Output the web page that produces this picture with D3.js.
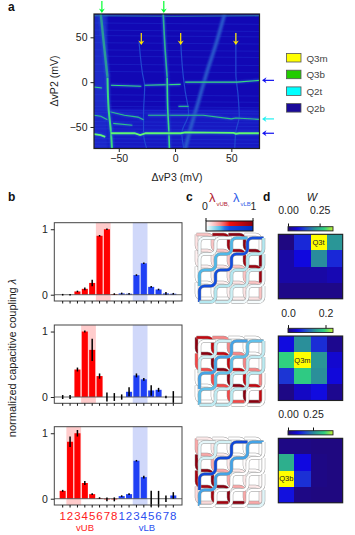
<!DOCTYPE html>
<html>
<head>
<meta charset="utf-8">
<script src="https://cdn.jsdelivr.net/npm/d3@7"></script>
<style>
body { margin: 0; background: white; }
text { font-family: "Liberation Sans", Arial, sans-serif; fill: #222; }
</style>
</head>
<body>
<div id="chart"></div>
<script>
const width = 355
const height = 535

// panel a: traces as [dvP3, dvP2] in mV
const traceVerticalUpper = [
    [[-66,76],[-63,40],[-60,5]],
    [[-10.5,76],[-9,40],[-7,5]]
]
const traceVerticalLower = [
    [[-60,5],[-59,-30],[-57,-55],[-56,-75]],
    [[-7,5],[-6.5,-30],[-5.5,-55],[-5,-75]]
]
const traceHorizontal = [
    [[-72,-5.5],[-65,-6.5]],
    [[-57,-3.5],[-30,-4.5]],
    [[-27,-3.5],[5,-2.5]],
    [[9,0],[55,0],[75,2]]
]
const traceBright = [
    [[-72,-58],[-66,-59],[-62,-61]],
    [[-57,-57],[-36,-57],[-31,-59],[-26,-57],[5,-57],[9,-56],[52,-56.5],[54,-57.5],[57,-57],[75,-57]]
]
const traceMiddle = [
    [[-72,-37],[-66,-38],[-60,-42]],
    [[-58,-33],[-45,-37],[-33,-39],[-28,-42]],
    [[-24,-37],[10,-37],[25,-37],[50,-41],[54,-40],[75,-41.5]],
    [[-55,-46],[-38,-48]],
    [[3,-27],[12,-27]]
]
const traceFaint = [
    [[-32,45],[-29,10],[-27,-5],[-28,-35],[-28,-57],[-25,-75]],
    [[5,45],[7,10],[9,-10],[12,-35],[6,-57],[8,-75]],
    [[54,55],[54,10],[56,-15],[57,-38],[54,-55],[53,-75]]
]
const traceBroad = [[44,76],[37,45],[28,10],[20,-25],[13,-55],[9,-75]]
const traceFloor = [[-72,74],[0,73.5],[75,74]]
const faintRows = [66,58,52,44,36,29,20,12,-14,-21,-27,-31,-34,-44,-48,-52,-63,-67,-71]

const tickA = [-50,0,50]
const arrowsTop = [-65,-10]
const arrowsMid = [-30,5,54]
const arrowsSide = [2,-41,-57]
const legendNames = ["Q3m","Q3b","Q2t","Q2b"]
const legendColors = ["#ffff00","#22cc00","#00ffff","#1a0a9a"]

// panel b: 8 vUB gates then 8 vLB gates, one row per dot
const gateNumbers = ["1","2","3","4","5","6","7","8","1","2","3","4","5","6","7","8"]
const couplingTop = [0,0,.05,.09,.18,.9,1,.01,.02,.015,.3,.48,.12,.08,.02,.015]
const errorTop = [.005,.01,.01,.02,.05,.01,.005,.005,.005,.005,.01,.01,.01,.01,.02,.01]
const couplingMid = [0,0,.42,1,.72,.32,0,0,0,.08,.33,.27,.1,.11,0,0]
const errorMid = [.03,.03,.03,.015,.17,.04,.07,.06,.04,.07,.03,.02,.08,.03,.02,.09]
const couplingLow = [.12,.87,1,.24,.07,.01,-.01,-.01,.04,.07,.58,.33,0,0,0,.05]
const errorLow = [.015,.08,.05,.03,.01,.01,.03,.03,.01,.01,.005,.02,.12,.12,.05,.05]
const highlightTop = [[5,6],[10,11]]
const highlightMid = [[3,4],[10,11]]
const highlightLow = [[1,2],[10,11]]

// panel d: W per dot, top row first
const weightTop = [
    [.005,.10,.356,.20],
    [.03,.07,.19,.10],
    [.03,.03,.03,.04],
    [.01,.01,.01,.01]
]
const weightMid = [
    [.05,.13,.07,.01],
    [.18,.24,.135,.04],
    [.075,.175,.13,.045],
    [.005,.035,.05,.01]
]
const weightLow = [
    [.01,.01,.005,.005],
    [.29,.09,.01,.005],
    [.45,.135,.01,.005],
    [.10,.01,.005,.005]
]
const weightNames = ["Q3t","Q3m","Q3b"]
const weightSpots = [[2,0],[1,1],[0,2]]
const weightMax = [.356,.24,.45]
const weightTicks = [[0,.25],[0,.2],[0,.25]]

// panel c: gate wires as lattice nodes
const wiresUB = [
    [[0,3],[0,4],[1,4]],
    [[0,2],[0,3],[1,3],[1,4],[2,4]],
    [[0,1],[0,2],[1,2],[1,3],[2,3],[2,4],[3,4]],
    [[0,0],[0,1],[1,1],[1,2],[2,2],[2,3],[3,3],[3,4],[4,4]],
    [[0,0],[1,0],[1,1],[2,1],[2,2],[3,2],[3,3],[4,3],[4,4]],
    [[1,0],[2,0],[2,1],[3,1],[3,2],[4,2],[4,3]],
    [[2,0],[3,0],[3,1],[4,1],[4,2]],
    [[3,0],[4,0],[4,1]]
]
const wiresLB = [
    [[0,1],[0,0],[1,0]],
    [[0,2],[0,1],[1,1],[1,0],[2,0]],
    [[0,3],[0,2],[1,2],[1,1],[2,1],[2,0],[3,0]],
    [[0,4],[0,3],[1,3],[1,2],[2,2],[2,1],[3,1],[3,0],[4,0]],
    [[0,4],[1,4],[1,3],[2,3],[2,2],[3,2],[3,1],[4,1],[4,0]],
    [[1,4],[2,4],[2,3],[3,3],[3,2],[4,2],[4,1]],
    [[2,4],[3,4],[3,3],[4,3],[4,2]],
    [[3,4],[4,4],[4,3]]
]

const couplings = [couplingTop, couplingMid, couplingLow]
const errors = [errorTop, errorMid, errorLow]
const highlights = [highlightTop, highlightMid, highlightLow]
const weights = [weightTop, weightMid, weightLow]

const svg = d3.select("#chart").append("svg").attr("width", width).attr("height", height)
    .style("display", "block")
const defs = svg.append("defs")

const mapColor = d3.scaleLinear()
    .domain([0,.2,.35,.55,.75,.9,1])
    .range(["#20087a","#1008e0","#2044d0","#2a9298","#30d080","#a8ec40","#ffff00"])
    .clamp(true)

const panelLetter = (t, x, y) => svg.append("text").text(t)
    .attr("x", x).attr("y", y).attr("font-size", 12).attr("font-weight", "bold").style("fill", "#111")

panelLetter("a", 8, 11)
panelLetter("b", 8, 201)
panelLetter("c", 186, 201)
panelLetter("d", 263, 201)

/* ---------- a ---------- */
const ax = d3.scaleLinear().domain([-72,75]).range([94,259.5])
const ay = d3.scaleLinear().domain([76,-74]).range([14,148.5])
const lineA = d3.line().x(d => ax(d[0])).y(d => ay(d[1])).curve(d3.curveMonotoneY)
const lineAh = d3.line().x(d => ax(d[0])).y(d => ay(d[1]))

defs.append("clipPath").attr("id", "clipA").append("rect")
    .attr("x", ax.range()[0]).attr("y", ay.range()[0])
    .attr("width", ax.range()[1]-ax.range()[0]).attr("height", ay.range()[1]-ay.range()[0])
defs.append("filter").attr("id", "soft2").attr("filterUnits", "userSpaceOnUse")
    .attr("x", 0).attr("y", 0).attr("width", width).attr("height", height)
    .append("feGaussianBlur").attr("stdDeviation", .55)
defs.append("filter").attr("id", "wide2").attr("filterUnits", "userSpaceOnUse")
    .attr("x", 0).attr("y", 0).attr("width", width).attr("height", height)
    .append("feGaussianBlur").attr("stdDeviation", 1.3)

const mapGroup = svg.append("g").attr("clip-path", "url(#clipA)")
mapGroup.append("rect").attr("x", 94).attr("y", 14).attr("width", 165.5).attr("height", 134.5).attr("fill", "#1208b4")
// brighter low voltage edge and bottom area
mapGroup.append("rect").attr("x", ax(-72)).attr("y", ay(76)).attr("width", ax(-60)-ax(-72)).attr("height", 134.5)
    .attr("fill", "#1a2cc8").attr("filter", "url(#wide2)")
mapGroup.append("rect").attr("x", ax(-72)).attr("y", ay(-30)).attr("width", 165.5).attr("height", ay(-74)-ay(-30))
    .attr("fill", "#1a28cc").attr("opacity", .6).attr("filter", "url(#wide2)")

mapGroup.selectAll(".row").data(faintRows).join("line")
    .attr("class", "row")
    .attr("x1", ax(-72)).attr("x2", ax(75))
    .attr("y1", d => ay(d)).attr("y2", d => ay(d - 1.5))
    .attr("stroke", "#2a4ce0").attr("stroke-width", .7).attr("opacity", .4)

function drawTrace(sel, pts, colorCore, w, gen) {
    sel.append("path").attr("d", gen(pts)).attr("fill", "none")
        .attr("stroke", mapColor(.36)).attr("stroke-width", w * 1.8).attr("filter", "url(#wide2)")
    sel.append("path").attr("d", gen(pts)).attr("fill", "none")
        .attr("stroke", colorCore).attr("stroke-width", w).attr("filter", "url(#soft2)")
}

mapGroup.append("path").attr("d", lineAh(traceFloor)).attr("fill", "none")
    .attr("stroke", "#2a80a8").attr("stroke-width", 1.1).attr("filter", "url(#soft2)")
mapGroup.append("path").attr("d", lineA(traceBroad)).attr("fill", "none")
    .attr("stroke", "#2a5ccc").attr("stroke-width", 3.5).attr("filter", "url(#wide2)")
traceFaint.forEach(t => mapGroup.append("path").attr("d", lineA(t)).attr("fill", "none")
    .attr("stroke", "#2048d0").attr("stroke-width", 1.2).attr("filter", "url(#soft2)"))
traceMiddle.forEach(t => drawTrace(mapGroup, t, "#2fc088", 1.1, lineAh))
traceHorizontal.forEach(t => drawTrace(mapGroup, t, "#38d880", 1.1, lineAh))
traceVerticalUpper.forEach((t, i) => drawTrace(mapGroup, t, i == 0 ? "#2a9a98" : "#2fb090", i == 0 ? 2.4 : 1.6, lineA))
traceVerticalLower.forEach((t, i) => drawTrace(mapGroup, t, "#3ada80", i == 0 ? 2 : 1.6, lineA))
traceBright.forEach(t => drawTrace(mapGroup, t, "#60f870", 1.8, lineAh))

svg.append("rect").attr("x", 94).attr("y", 14).attr("width", 165.5).attr("height", 134.5)
    .attr("fill", "none").attr("stroke", "#222").attr("stroke-width", 1.2)

const axisAx = svg.append("g").attr("transform", "translate(0,148.5)")
    .call(d3.axisBottom(ax).tickValues(tickA).tickSize(3.5).tickPadding(3))
const axisAy = svg.append("g").attr("transform", "translate(94,0)")
    .call(d3.axisLeft(ay).tickValues(tickA).tickSize(3.5).tickPadding(3))
;[axisAx, axisAy].forEach(g => {
    g.select(".domain").remove()
    g.selectAll("text").attr("font-size", 10.5).style("font-family", "Liberation Sans")
    g.selectAll("line").attr("stroke", "#222")
})

svg.append("text").text("ΔvP3 (mV)").attr("x", 177).attr("y", 181)
    .attr("text-anchor", "middle").attr("font-size", 10.5)
svg.append("text").text("ΔvP2 (mV)").attr("transform", "translate(58,81) rotate(-90)")
    .attr("text-anchor", "middle").attr("font-size", 10.5)

function arrowDown(x, y0, y1, color) {
    svg.append("line").attr("x1", x).attr("x2", x).attr("y1", y0).attr("y2", y1 - 2)
        .attr("stroke", color).attr("stroke-width", 1.2)
    svg.append("path").attr("d", d3.line()([[x-3,y1-4.5],[x,y1],[x+3,y1-4.5],[x,y1-3]]))
        .attr("fill", color)
}
function arrowLeft(y, x0, x1, color) {
    svg.append("line").attr("x1", x0).attr("x2", x1 + 2).attr("y1", y).attr("y2", y)
        .attr("stroke", color).attr("stroke-width", 1.2)
    svg.append("path").attr("d", d3.line()([[x1+4.5,y-3],[x1,y],[x1+4.5,y+3],[x1+3,y]]))
        .attr("fill", color)
}
arrowsTop.forEach(v => arrowDown(ax(v), 1, 13, "#00ff30"))
arrowsMid.forEach(v => arrowDown(ax(v), 33, 45, "#ffe600"))
const sideColors = ["#1010f0","#20f0f0","#1010f0"]
arrowsSide.forEach((v, i) => arrowLeft(ay(v), 274, 262, sideColors[i]))

legendNames.forEach((name, i) => {
    const top = 53.5 + i * 16.7
    svg.append("rect").attr("x", 286.5).attr("y", top).attr("width", 14.5).attr("height", 8.5)
        .attr("fill", legendColors[i]).attr("stroke", "#555").attr("stroke-width", .8)
    svg.append("text").text(name).attr("x", 306.5).attr("y", top + 8)
        .attr("font-size", 9.8).style("fill", "#444")
})

/* ---------- b ---------- */
const bTops = [222.7, 325, 426.7]
const gates = d3.range(16)
const bx = d3.scaleBand().domain(gates).range([59,177]).paddingInner(.18).paddingOuter(.09)
couplings.forEach((values, p) => {
    const top = bTops[p]
    const by = d3.scaleLinear().domain([1.1,-.096]).range([top, top + 78.3])
    const g = svg.append("g")

    highlights[p].forEach((pair, k) => {
        g.append("rect")
            .attr("x", bx(pair[0]) - bx.step() * .09).attr("y", top)
            .attr("width", bx.step() * 2).attr("height", 78.3)
            .attr("fill", k == 0 ? "#ffcccc" : "#d0d8fa")
    })
    g.selectAll(".bar").data(values).join("rect")
        .attr("class", "bar")
        .attr("x", (d, i) => bx(i))
        .attr("y", d => by(Math.max(d, 0)))
        .attr("width", bx.bandwidth())
        .attr("height", d => Math.abs(by(d) - by(0)))
        .attr("fill", (d, i) => i < 8 ? "#ff0000" : "#1f40f5")
    g.append("line").attr("x1", 54.3).attr("x2", 182).attr("y1", by(0)).attr("y2", by(0))
        .attr("stroke", "#555").attr("stroke-width", .9)
    g.selectAll(".err").data(values).join("line")
        .attr("class", "err")
        .attr("x1", (d, i) => bx(i) + bx.bandwidth() / 2)
        .attr("x2", (d, i) => bx(i) + bx.bandwidth() / 2)
        .attr("y1", (d, i) => Math.min(by(d + errors[p][i]), by(d) - .8))
        .attr("y2", (d, i) => Math.max(by(d - errors[p][i]), by(d) + .8))
        .attr("stroke", "#000").attr("stroke-width", 1.5)
    g.append("rect").attr("x", 54.3).attr("y", top).attr("width", 127.7).attr("height", 78.3)
        .attr("fill", "none").attr("stroke", "#444").attr("stroke-width", 1)

    const xAxis = g.append("g").attr("transform", `translate(0,${top + 78.3})`)
        .call(d3.axisBottom(bx).tickSize(2.5).tickFormat((d, i) => p == 2 ? gateNumbers[i] : "").tickPadding(4))
    xAxis.select(".domain").remove()
    xAxis.selectAll("line").attr("stroke", "#111")
    xAxis.selectAll("text").attr("font-size", 11.5).style("font-family", "Liberation Sans")
        .style("fill", (d, i) => i < 8 ? "#ff2020" : "#2a50f0")

    const yAxis = g.append("g").attr("transform", "translate(54.3,0)")
        .call(d3.axisLeft(by).tickValues([0,1]).tickFormat(d3.format("d")).tickSize(3.5).tickPadding(3))
    yAxis.select(".domain").remove()
    yAxis.selectAll("line").attr("stroke", "#222")
    yAxis.selectAll("text").attr("font-size", 10.5).style("font-family", "Liberation Sans")
})
svg.append("text").text("vUB").attr("x", 85).attr("y", 531).attr("text-anchor", "middle")
    .attr("font-size", 9.5).style("fill", "#ff2020")
svg.append("text").text("vLB").attr("x", 147).attr("y", 531).attr("text-anchor", "middle")
    .attr("font-size", 9.5).style("fill", "#2a50f0")
const yTitle = svg.append("text").attr("transform", "translate(16,358) rotate(-90)")
    .attr("text-anchor", "middle").attr("font-size", 11)
yTitle.append("tspan").text("normalized capacitive coupling ")
yTitle.append("tspan").text("λ").attr("font-style", "italic")

/* ---------- c ---------- */
const redScale = d3.scaleLinear().domain([0,.15,.35,.5,1])
    .range(["#ffffff","#fbd0d0","#f87878","#f01010","#8a0010"])
const blueScale = d3.scaleLinear().domain([0,.12,.3,.45,1])
    .range(["#ffffff","#b4e8f0","#50b8e8","#1450e0","#0030c0"])

function wirePath(nodes, sx, sy) {
    const r = 5
    const path = d3.path()
    const pts = nodes.map(n => [sx(n[0]), sy(n[1])])
    path.moveTo(pts[0][0], pts[0][1])
    for (let i = 1; i < pts.length - 1; i++) {
        path.arcTo(pts[i][0], pts[i][1], pts[i+1][0], pts[i+1][1], r)
    }
    const last = pts[pts.length - 1]
    path.lineTo(last[0], last[1])
    return path.toString()
}

const latticeTops = [238, 341, 442]
latticeTops.forEach((top, p) => {
    const g = svg.append("g")
    const redX = d3.scaleLinear().domain([0,4]).range([196.5,260.5])
    const redY = d3.scaleLinear().domain([0,4]).range([top - 3.5, top + 60.5])
    const bluX = d3.scaleLinear().domain([0,4]).range([199.5,263.5])
    const bluY = d3.scaleLinear().domain([0,4]).range([top, top + 64])
    // upper gate layer goes underneath, lower gate layer lies over it
    wiresUB.forEach((w, i) => {
        const d = wirePath(w, redX, redY)
        g.append("path").attr("d", d).attr("fill", "none").attr("stroke", "#999").attr("stroke-width", 3.5)
        g.append("path").attr("d", d).attr("fill", "none").attr("stroke", redScale(couplings[p][i])).attr("stroke-width", 2.6)
    })
    wiresLB.forEach((w, i) => {
        const d = wirePath(w, bluX, bluY)
        g.append("path").attr("d", d).attr("fill", "none").attr("stroke", "#999").attr("stroke-width", 3.5)
        g.append("path").attr("d", d).attr("fill", "none").attr("stroke", blueScale(couplings[p][i + 8])).attr("stroke-width", 2.6)
    })
})

const gradRed = defs.append("linearGradient").attr("id", "gradRed")
d3.range(0, 1.01, .1).forEach(t => gradRed.append("stop").attr("offset", t).attr("stop-color", redScale(t)))
const gradBlue = defs.append("linearGradient").attr("id", "gradBlue")
d3.range(0, 1.01, .1).forEach(t => gradBlue.append("stop").attr("offset", t).attr("stop-color", blueScale(t)))

svg.append("rect").attr("x", 206).attr("y", 221).attr("width", 47).attr("height", 5).attr("fill", "url(#gradRed)")
svg.append("rect").attr("x", 206).attr("y", 226).attr("width", 47).attr("height", 5).attr("fill", "url(#gradBlue)")
svg.append("rect").attr("x", 206).attr("y", 221).attr("width", 47).attr("height", 10)
    .attr("fill", "none").attr("stroke", "#111").attr("stroke-width", 1)
;[206,253].forEach(x => svg.append("line").attr("x1", x).attr("x2", x).attr("y1", 218).attr("y2", 221)
    .attr("stroke", "#111"))
svg.append("text").text("0").attr("x", 205).attr("y", 210).attr("text-anchor", "middle").attr("font-size", 10.5)
svg.append("text").text("1").attr("x", 253.5).attr("y", 210).attr("text-anchor", "middle").attr("font-size", 10.5)

svg.append("text").text("λ").attr("x", 209).attr("y", 202).attr("font-size", 13).style("fill", "#b02030")
svg.append("text").text("vUB,").attr("x", 216.5).attr("y", 205.5).attr("font-size", 6).style("fill", "#b02030")
svg.append("text").text("λ").attr("x", 233).attr("y", 202).attr("font-size", 13).style("fill", "#3060e8")
svg.append("text").text("vLB").attr("x", 240.5).attr("y", 205.5).attr("font-size", 6).style("fill", "#3060e8")

/* ---------- d ---------- */
svg.append("text").text("W").attr("x", 312).attr("y", 201).attr("text-anchor", "middle")
    .attr("font-size", 11).attr("font-style", "italic")

const dTops = [234.3, 336, 438.3]
const barTops = [226.7, 328.3, 430.7]
const labelBase = [214, 317, 418]
weights.forEach((grid, p) => {
    const top = dTops[p]
    const col = d3.scaleBand().domain(d3.range(4)).range([278.3,342.7])
    const row = d3.scaleBand().domain(d3.range(4)).range([top, top + 64.5])
    const color = v => mapColor(v / weightMax[p])
    const g = svg.append("g")
    grid.forEach((rowValues, r) => {
        g.selectAll(".c" + r).data(rowValues).join("rect")
            .attr("x", (d, c) => col(c)).attr("y", row(r))
            .attr("width", col.bandwidth()).attr("height", row.bandwidth())
            .attr("fill", d => color(d))
            .attr("shape-rendering", "crispEdges")
    })
    g.append("rect").attr("x", 278.3).attr("y", top).attr("width", 64.4).attr("height", 64.5)
        .attr("fill", "none").attr("stroke", "#222").attr("stroke-width", 1.1)
    const spot = weightSpots[p]
    g.append("text").text(weightNames[p])
        .attr("x", col(spot[0]) + col.bandwidth() / 2)
        .attr("y", row(spot[1]) + row.bandwidth() / 2 + 2.5)
        .attr("text-anchor", "middle").attr("font-size", 7.5).style("fill", "#222")

    const gradId = "gradW" + p
    const grad = defs.append("linearGradient").attr("id", gradId)
    d3.range(0, 1.01, .05).forEach(t => grad.append("stop").attr("offset", t).attr("stop-color", mapColor(t * .93)))
    g.append("rect").attr("x", 288).attr("y", barTops[p]).attr("width", 45).attr("height", 4.2)
        .attr("fill", `url(#${gradId})`).attr("stroke", "#222").attr("stroke-width", .9)
    const bar = d3.scaleLinear().domain([0, weightMax[p]]).range([288,333])
    const axis = g.append("g").attr("transform", `translate(0,${barTops[p]})`)
        .call(d3.axisTop(bar).tickValues(weightTicks[p]).tickSize(3.2).tickPadding(0)
            .tickFormat(p == 1 ? d3.format(".1f") : d3.format(".2f")))
    axis.select(".domain").remove()
    axis.selectAll("line").attr("stroke", "#111")
    axis.selectAll("text").attr("font-size", 10.5).style("font-family", "Liberation Sans")
        .attr("y", labelBase[p] - barTops[p]).attr("dy", 0)
})
</script>
</body>
</html>
